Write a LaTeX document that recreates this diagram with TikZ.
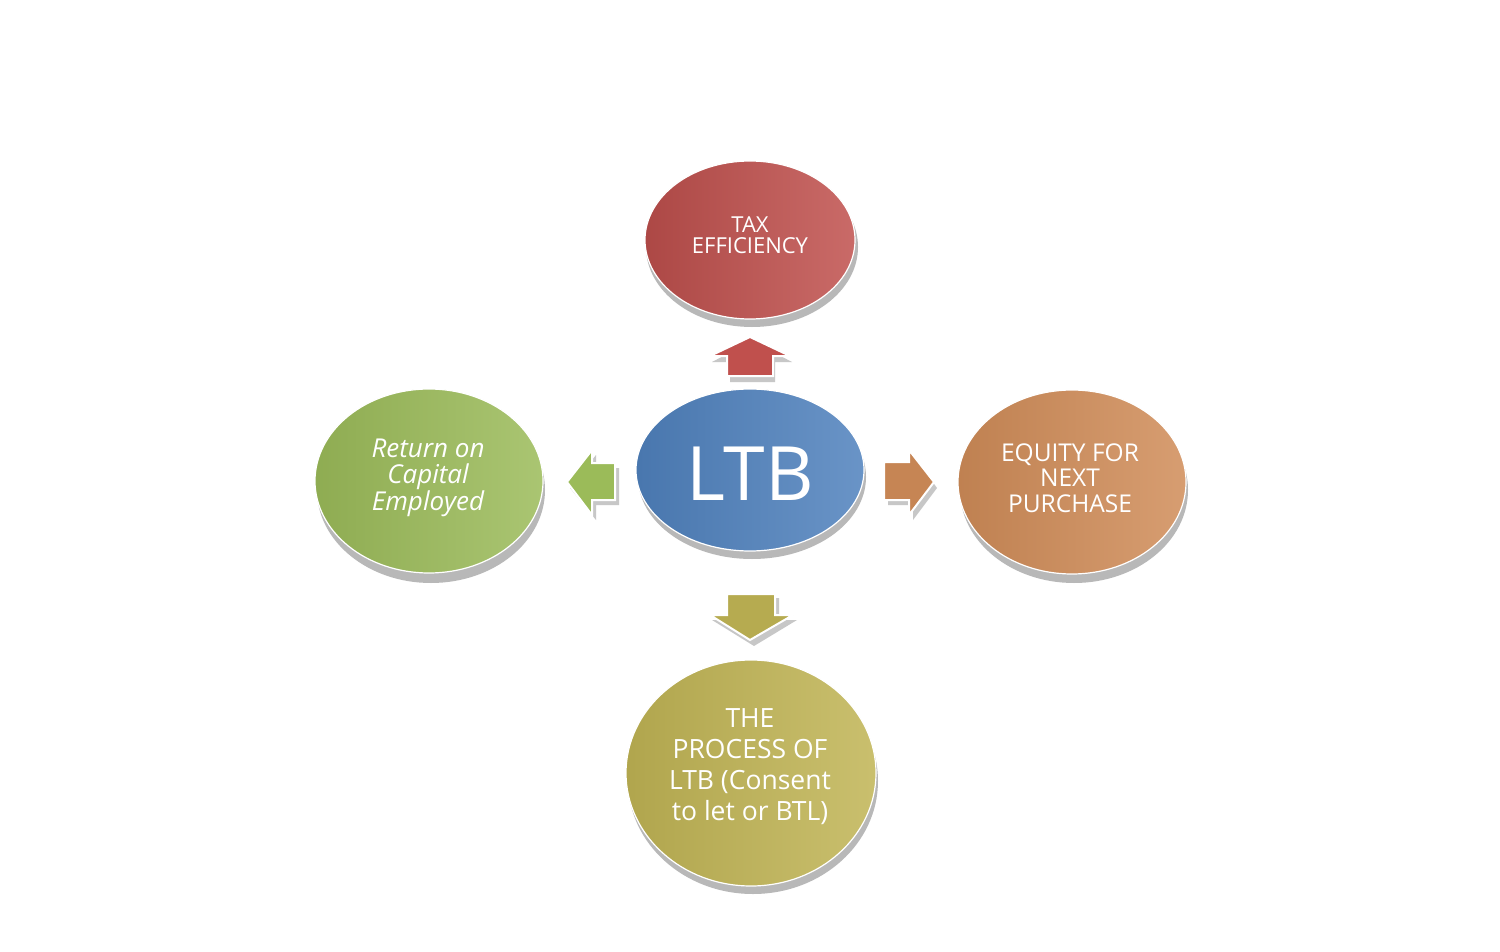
\documentclass[tikz,border=0pt]{standalone}
\usepackage{fontspec}
\setmainfont{Open Sans}
\usetikzlibrary{shapes.geometric,shadings}
\definecolor{cred}{HTML}{C0504D}
\definecolor{cblue}{HTML}{4F81BD}
\definecolor{cgreen}{HTML}{9BBB59}
\definecolor{corange}{HTML}{D08C58}
\definecolor{colive}{HTML}{C0B454}
\tikzset{
  disc/.style={ellipse, draw=white, line width=1.2pt, inner sep=0pt},
  disctext/.style={text=white, align=center, inner sep=0pt},
  discshadow/.style={fill=black!28, draw=none},
  blockarrow/.style={draw=white, line width=2pt, line join=miter},
  arrowshadow/.style={fill=black!22, draw=none},
}
\begin{document}
\begin{tikzpicture}[x=1pt,y=-1pt]
\useasboundingbox (0,0) rectangle (1500,952);
\fill[white] (0,0) rectangle (1500,952);
% shadows of discs
\fill[discshadow] (752,247) ellipse [x radius=106, y radius=80];
\fill[discshadow] (752,477) ellipse [x radius=114, y radius=82];
\fill[discshadow] (431,490) ellipse [x radius=114, y radius=93];
\fill[discshadow] (1074,490) ellipse [x radius=114, y radius=93];
\fill[discshadow] (753,781) ellipse [x radius=125, y radius=113];
% discs
\node[disc, minimum width=210pt, minimum height=158pt,
  left color=cred!90!black, right color=cred!85!white] (tax) at (750,240) {};
\node[disc, minimum width=228pt, minimum height=162pt,
  left color=cblue!92!black, right color=cblue!85!white] (ltb) at (750,470) {};
\node[disc, minimum width=228pt, minimum height=184pt,
  left color=cgreen!92!black, right color=cgreen!85!white] (roce) at (429,481) {};
\node[disc, minimum width=228pt, minimum height=184pt,
  left color=corange!92!black, right color=corange!85!white] (equity) at (1072,482) {};
\node[disc, minimum width=250pt, minimum height=226pt,
  left color=colive!92!black, right color=colive!85!white] (process) at (751,773) {};
% texts
\node[disctext, font=\fontsize{22}{21.5}\selectfont] (taxt) at (750,235) {TAX\\EFFICIENCY};
\node[disctext, font=\fontsize{75}{72}\selectfont] (ltbt) at (750,474) {LTB};
\node[disctext, font=\fontsize{26}{25.5}\selectfont\itshape] (roct) at (428,478) {Return on\\Capital\\Employed};
\node[disctext, font=\fontsize{24.5}{25.5}\selectfont] (eqt) at (1070,478) {EQUITY FOR\\NEXT\\PURCHASE};
\node[disctext, font=\fontsize{26.5}{31}\selectfont] (prt) at (750,767) {THE\\PROCESS OF\\LTB (Consent\\to let or BTL)};
% up arrow
\fill[arrowshadow] (730,382) -- (730,362) -- (712,362) -- (752,341) -- (792,362) -- (775,362) -- (775,382) -- cycle;
\filldraw[blockarrow, fill=cred] (727,376) -- (727,356) -- (710,356) -- (750,337) -- (790,356) -- (773,356) -- (773,376) -- cycle;
% left arrow
\fill[arrowshadow] (619,505) -- (596,505) -- (596,520) -- (570,488) -- (596,455) -- (596,468) -- (619,468) -- cycle;
\filldraw[blockarrow, fill=cgreen] (615,500) -- (592,500) -- (592,515) -- (567,482) -- (592,450) -- (592,463) -- (615,463) -- cycle;
% right arrow
\fill[arrowshadow] (888,468) -- (913,468) -- (913,455) -- (937,488) -- (913,520) -- (913,505) -- (888,505) -- cycle;
\filldraw[blockarrow, fill=corange!95!black] (884,462) -- (909,462) -- (909,450) -- (934,482) -- (909,515) -- (909,500) -- (884,500) -- cycle;
% down arrow
\fill[arrowshadow] (731,598) -- (779,598) -- (779,620) -- (797,620) -- (754,646) -- (712,620) -- (731,620) -- cycle;
\filldraw[blockarrow, fill=colive!95!black] (727,594) -- (775,594) -- (775,615) -- (793,615) -- (750,640) -- (710,615) -- (727,615) -- cycle;
\end{tikzpicture}
\end{document}
